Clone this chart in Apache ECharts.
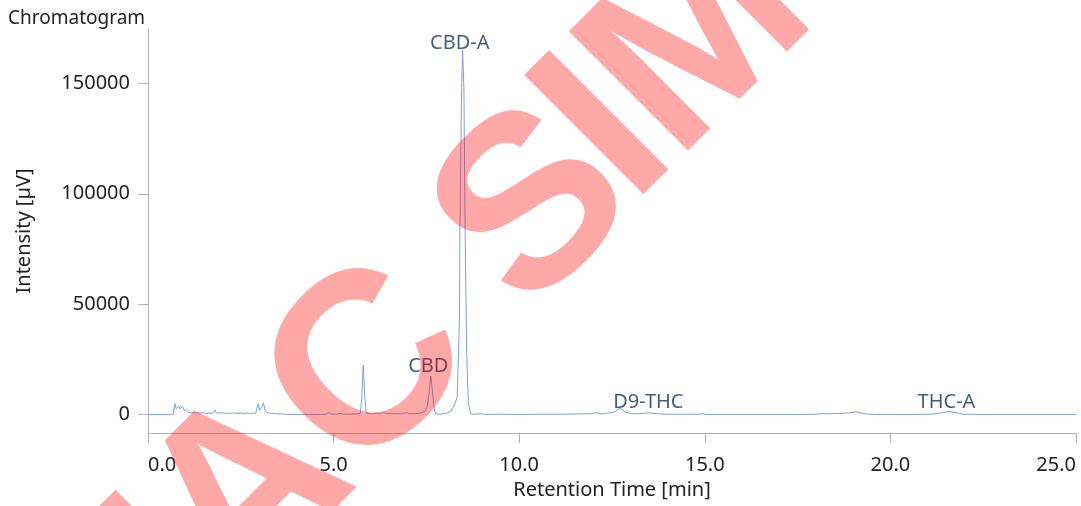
<!DOCTYPE html>
<html>
<head>
<meta charset="utf-8">
<title>Chromatogram</title>
<script src="https://cdn.jsdelivr.net/npm/echarts@6/dist/echarts.min.js"></script>
<style>
html, body { margin: 0; padding: 0; background: #fff; }
#chart { width: 1081px; height: 506px; }
</style>
</head>
<body>
<div id="chart"></div>
<script>
// retention time [min] / signal [µV]
var times = [
    0, 0.60, 0.68, 0.73, 0.76, 0.79, 0.835, 0.86, 0.88, 0.93,
    0.97, 1.00, 1.04, 1.08, 1.13, 1.18, 1.23, 1.28, 1.33, 1.40,
    1.48, 1.55, 1.62, 1.70, 1.76, 1.80, 1.84, 1.92, 2.00, 2.08,
    2.16, 2.25, 2.32, 2.40, 2.50, 2.58, 2.66, 2.74, 2.82, 2.90,
    2.94, 2.97, 3.01, 3.04, 3.08, 3.11, 3.15, 3.20, 3.27, 3.33,
    3.38, 3.43, 3.55, 3.64, 3.69, 3.74, 3.90, 4.50, 4.80, 4.87,
    4.93, 5.10, 5.17, 5.25, 5.60, 5.72, 5.76, 5.80, 5.84, 5.88,
    5.95, 6.05, 6.15, 6.25, 6.34, 6.42, 6.55, 6.70, 6.85, 6.97,
    7.05, 7.20, 7.33, 7.46, 7.52, 7.57, 7.62, 7.67, 7.71, 7.75,
    7.85, 8.00, 8.14, 8.22, 8.27, 8.33, 8.39, 8.405, 8.45, 8.475,
    8.51, 8.54, 8.586, 8.63, 8.69, 8.80, 8.99, 9.10, 9.50, 10.00,
    10.50, 11.00, 11.50, 12.00, 12.09, 12.20, 12.35, 12.55, 12.72, 12.85,
    13.00, 13.20, 13.52, 13.70, 14.00, 14.80, 14.95, 15.05, 16.00, 17.50,
    18.00, 18.10, 18.60, 18.90, 19.07, 19.30, 19.60, 20.50, 21.10, 21.35,
    21.58, 21.80, 21.95, 22.50, 25.00
];
var intensities = [
    0, 0, 200, 5000, 2500, 1900, 3900, 2600, 2400, 3700,
    2000, 1200, 2000, 1000, 1500, 900, 1400, 800, 1300, 700,
    900, 600, 800, 600, 900, 2200, 900, 700, 900, 600,
    700, 500, 800, 500, 700, 400, 800, 500, 700, 600,
    1500, 5000, 2000, 1600, 3800, 5400, 2000, 900, 700, 600,
    1200, 500, 300, 300, 900, 200, 100, 100, 200, 1000,
    300, 200, 600, 200, 300, 600, 8000, 22500, 8000, 800,
    500, 300, 600, 400, 1100, 400, 500, 400, 400, 900,
    400, 500, 700, 1600, 3500, 9500, 17500, 9500, 2500, 500,
    200, 400, 1300, 3200, 5000, 8000, 42000, 88000, 148000, 165000,
    148000, 88000, 27500, 5000, 300, 200, 400, 100, 200, 100,
    200, 200, 300, 500, 900, 400, 500, 1200, 2900, 1200,
    500, 400, 800, 400, 200, 200, 400, 100, 100, 100,
    200, 400, 500, 800, 1300, 400, 100, 100, 200, 800,
    1400, 800, 200, 100, 100
];

// peak names and where their labels sit (time, level)
var peakNames = ['CBD', 'CBD-A', 'D9-THC', 'THC-A'];
var peakLabelTimes = [7.55, 8.40, 13.48, 21.51];
var peakLabelLevels = [22000, 168200, 5800, 5800];

var yTicks = [0, 50000, 100000, 150000];

var trace = times.map(function (t, i) { return [t, intensities[i]]; });
var labels = peakNames.map(function (n, i) { return [peakLabelTimes[i], peakLabelLevels[i], n]; });

var FONT = 'Noto Sans';
var axisGray = '#b4b4b4';

// watermark letters, placed one by one (anchor x, anchor y on the canvas)
var stamp = [
    ['T', 136, 612], ['A', 251, 497], ['C', 372, 372], ['S', 537, 211],
    ['I', 608, 134], ['M', 701, 42], ['U', 835, -92]
];
var stampGraphics = stamp.map(function (s) {
    return {
        type: 'text',
        x: s[1], y: s[2],
        rotation: Math.PI / 4,
        z: 100,
        silent: true,
        style: {
            text: s[0],
            fontFamily: 'Liberation Sans',
            fontWeight: 'bold',
            fontSize: 245,
            fill: 'rgba(255,0,0,0.34)',
            align: 'center',
            verticalAlign: 'middle'
        }
    };
});

var myChart = echarts.init(document.getElementById('chart'));
var option = {
    animation: false,
    title: {
        text: 'Chromatogram',
        left: 3, top: 4,
        textStyle: { fontFamily: FONT, fontSize: 19, fontWeight: 'normal', color: '#222' }
    },
    grid: { left: 148, right: 5, top: 29, bottom: 73, outerBoundsMode: 'none' },
    xAxis: {
        type: 'value',
        min: 0, max: 25, interval: 5,
        name: 'Retention Time [min]',
        nameLocation: 'middle',
        nameGap: 47,
        nameTextStyle: { fontFamily: FONT, fontSize: 20, color: '#222' },
        axisLine: { onZero: false, lineStyle: { color: axisGray } },
        axisTick: { length: 10, lineStyle: { color: axisGray } },
        axisLabel: {
            margin: 22, fontFamily: FONT, fontSize: 20, color: '#222',
            alignMinLabel: 'left', alignMaxLabel: 'right',
            formatter: function (v) { return v.toFixed(1); }
        },
        splitLine: { show: false }
    },
    yAxis: {
        type: 'value',
        min: -8300, max: 174600,
        name: 'Intensity [µV]',
        nameLocation: 'middle',
        nameGap: 114,
        nameRotate: 90,
        nameTextStyle: { fontFamily: FONT, fontSize: 20, color: '#222' },
        axisLine: { show: true, lineStyle: { color: axisGray } },
        axisTick: { show: true, length: 10, customValues: yTicks, lineStyle: { color: axisGray } },
        axisLabel: {
            margin: 18, fontFamily: FONT, fontSize: 20, color: '#222',
            customValues: yTicks,
            formatter: function (v) { return String(v); }
        },
        splitLine: { show: false }
    },
    series: [{
        type: 'line',
        data: trace,
        showSymbol: false,
        sampling: 'none',
        lineStyle: { color: '#7f9fdc', width: 1 },
        silent: true
    }, {
        type: 'scatter',
        data: labels,
        symbolSize: 0,
        silent: true,
        label: {
            show: true, position: 'inside',
            fontFamily: FONT, fontSize: 20, color: '#173157',
            formatter: function (p) { return p.data[2]; }
        }
    }],
    graphic: stampGraphics
};
myChart.setOption(option);
</script>
</body>
</html>
